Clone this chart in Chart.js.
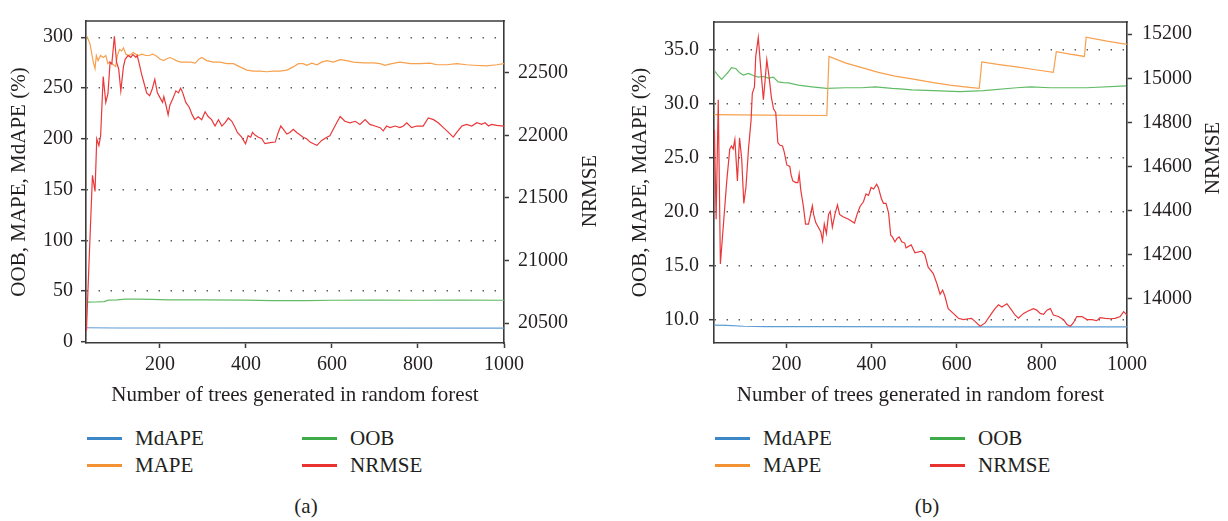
<!DOCTYPE html>
<html><head><meta charset="utf-8">
<script src="https://cdn.jsdelivr.net/npm/chart.js@4.4.1/dist/chart.umd.min.js"></script>
<style>
html,body{margin:0;padding:0;background:#fff;}
#wrap{position:relative;width:1228px;height:521px;overflow:hidden;font-family:"Liberation Serif","Times New Roman",serif;color:#231f20;}
.cv{position:absolute;top:0;}
.leg{position:absolute;font-size:21px;line-height:27px;}
.item{position:absolute;white-space:nowrap;height:27px;}
.sw{position:absolute;left:0;top:12px;width:35px;height:3px;}
.lab{position:absolute;left:48px;top:0;}
.cap{position:absolute;font-size:21px;transform:translate(-50%,-50%);}
</style></head>
<body><div id="wrap">
<canvas id="ca" class="cv" width="614" height="410" style="left:0"></canvas>
<canvas id="cb" class="cv" width="614" height="410" style="left:614px"></canvas>
<div id="legA" class="leg" style="left:87px;top:425px"></div>
<div id="legB" class="leg" style="left:715px;top:425px"></div>
<div class="cap" style="left:306px;top:506px">(a)</div>
<div class="cap" style="left:927px;top:506px">(b)</div>
</div>
<script>
// ---------- labels ----------
const seriesNames = ['MdAPE', 'MAPE', 'OOB', 'NRMSE'];
const seriesColors = ['#3b87c8', '#f39232', '#3dab48', '#e8322d'];   // legend keys
const lineColors   = ['#5d9ed6', '#f7a04e', '#62bb66', '#e9383a'];   // plotted lines
const xTitle = 'Number of trees generated in random forest';
const yLeftTitle = 'OOB, MAPE, MdAPE (%)';
const yRightTitle = 'NRMSE';
const xTicks = [200, 400, 600, 800, 1000];

// ---------- panel (a) ----------
const aLeftTicks = [0, 50, 100, 150, 200, 250, 300];
const aRightTicks = [20500, 21000, 21500, 22000, 22500];

const aMdapeX = [28, 100, 1000];
const aMdape  = [13.8, 13.6, 13.5];

const aMapeX = [30,37,45,49,52,56,62,68,74,79,83,89,97,101,106,111,115,121,127,133,138,144,150,158,167,175,183,190,200,208,215,223,231,238,248,260,271,282,291,297,309,324,340,355,371,386,402,417,433,448,464,479,495,510,522,533,541,553,565,576,588,603,619,634,650,673,696,712,723,739,758,782,805,828,844,867,890,913,929,960,983,1000];
const aMape  = [301,294,275.5,269,282,277,282,280,282,274,275.5,274,271,282,288,286.5,289.6,283.3,282,283.3,285,283.3,282,283.3,282,282,283.3,282,278.6,277,278.6,280,278.6,277,275.5,275.5,275.5,274.5,278.6,280,277,275.5,275.5,274,274,270.8,267.6,266.7,266.7,266,266.7,266.7,267.6,270.8,274,274,272.4,274.5,272.9,275.5,277,275.5,278,277,275.5,274.8,274.8,274,272.4,274,275.5,274,274,274.5,272.9,272.9,274,272.9,272.4,271.7,272.9,274];

const aOobX = [28,50,70,80,100,120,150,180,220,300,400,460,540,600,700,800,900,1000];
const aOob  = [39.0,39.2,39.6,41.0,41.3,42.0,42.1,41.8,41.2,41.3,41.0,40.5,40.6,40.9,41.0,40.9,41.0,40.9];

const aNrmseX = [29,33,43,49,53,58,62,68,74,79,84,88,94,99,104,109,115,119,126,132,137,144,147,152,157,163,169,176,182,188,194,200,206,209,214,219,223,230,237,243,248,253,260,268,275,281,289,297,305,312,320,328,336,344,351,359,367,375,380,390,399,405,411,415,421,429,437,444,456,468,475,481,487,495,502,510,518,526,533,541,549,557,565,576,588,595,603,611,619,630,642,654,665,677,688,700,712,719,727,735,747,758,766,774,785,797,812,824,836,847,859,871,882,890,902,913,925,937,948,956,964,971,983,1000];
const aNrmse  = [20440,20800,21681,21551,21972,21918,21995,22469,22263,22332,22584,22569,22791,22584,22531,22355,22546,22607,22638,22623,22645,22623,22638,22569,22492,22416,22339,22316,22370,22446,22339,22301,22263,22309,22240,22163,22240,22293,22355,22339,22377,22339,22263,22224,22163,22125,22148,22125,22188,22150,22125,22074,22125,22074,22100,22138,22112,22061,22023,21985,21933,21997,21985,22023,22002,21985,21972,21933,21941,21946,22023,22074,22048,22010,22023,22048,22023,22002,21985,21972,21946,21933,21920,21959,21985,21997,22048,22100,22150,22112,22100,22112,22087,22125,22087,22074,22061,22035,22074,22061,22074,22061,22074,22100,22061,22074,22074,22138,22125,22100,22061,22023,21985,22023,22074,22087,22074,22100,22087,22100,22074,22087,22079,22074];

// ---------- panel (b) ----------
const bLeftTicks = [10, 15, 20, 25, 30, 35];
const bRightTicks = [14000, 14200, 14400, 14600, 14800, 15000, 15200];

const bMdapeX = [30, 60, 100, 150, 300, 600, 1000];
const bMdape  = [9.47, 9.45, 9.36, 9.32, 9.32, 9.30, 9.30];

const bMapeX = [30,150,295,300,338,377,416,455,495,545,584,624,653,659,700,741,785,827,834,866,900,904,953,1000];
const bMape  = [28.97,28.92,28.88,34.35,33.76,33.32,32.87,32.52,32.28,31.92,31.69,31.51,31.39,33.85,33.60,33.38,33.12,32.87,34.80,34.56,34.35,36.13,35.77,35.47];

const bOobX = [31,40,48,56,64,71,81,91,99,111,122,134,146,158,169,181,193,205,228,260,295,338,377,409,448,467,495,545,608,663,741,773,820,906,998];
const bOob  = [33.02,32.58,32.23,32.58,32.93,33.32,33.23,32.81,32.63,32.78,32.58,32.43,32.49,32.34,32.43,31.99,31.92,31.90,31.69,31.54,31.39,31.45,31.45,31.54,31.39,31.34,31.25,31.19,31.10,31.19,31.45,31.54,31.45,31.45,31.63];

const bNrmseX = [31,35,40,45,60,67,71,75,79,85,90,95,100,105,111,117,120,125,128,134,140,146,150,154,159,165,170,175,180,185,191,195,201,208,211,215,222,227,230,234,240,245,252,256,261,264,269,275,281,285,289,294,299,303,308,314,320,325,333,346,360,366,373,381,387,393,399,405,412,416,423,428,434,440,445,449,455,460,465,471,478,481,487,493,502,518,525,533,545,553,561,567,572,580,592,604,616,627,635,643,655,667,674,682,690,698,706,718,729,737,745,757,768,780,788,796,804,812,820,827,839,851,859,867,874,882,894,906,918,929,937,949,961,972,984,992,1000];
const bNrmse  = [14766,14361,14903,14158,14535,14679,14693,14679,14722,14535,14730,14636,14433,14505,14679,14809,14932,14961,15098,15185,15040,14903,14990,15084,15012,14910,14860,14845,14708,14696,14693,14665,14607,14600,14563,14535,14527,14527,14566,14491,14419,14339,14339,14375,14422,14383,14346,14325,14303,14263,14339,14296,14383,14397,14325,14383,14426,14383,14372,14361,14344,14383,14419,14440,14476,14469,14505,14498,14520,14505,14455,14433,14433,14390,14289,14281,14259,14274,14281,14259,14253,14231,14238,14245,14209,14216,14202,14144,14115,14072,14021,14040,14014,13956,13934,13912,13906,13910,13912,13898,13876,13891,13912,13934,13956,13973,13963,13978,13949,13927,13912,13934,13945,13956,13949,13934,13930,13949,13956,13927,13920,13906,13884,13876,13891,13920,13920,13906,13906,13901,13915,13912,13910,13912,13920,13942,13927];

// ---------- drawing ----------
const FONT = '"Liberation Serif", "Times New Roman", serif';
const INK = '#231f20';
const AXIS = '#3a3a3a';
const DOT = '#555555';

const pts = (xs, ys) => xs.map((x, i) => ({ x: x, y: ys[i] }));
const setTicks = vals => scale => { scale.ticks = vals.map(v => ({ value: v })); };

const framePlugin = {
  id: 'frameTitle',
  afterDraw(chart, args, o) {
    const { ctx, chartArea: a } = chart;
    ctx.save();
    ctx.strokeStyle = AXIS;
    ctx.lineWidth = 1.6;
    ctx.beginPath();
    ctx.moveTo(a.left - 0.8, a.top);
    ctx.lineTo(a.right + 0.8, a.top);
    ctx.stroke();
    ctx.translate(o.x, o.y);
    ctx.rotate(-Math.PI / 2);
    ctx.font = '21px ' + FONT;
    ctx.fillStyle = INK;
    ctx.textAlign = 'center';
    ctx.textBaseline = 'middle';
    ctx.fillText(o.text, 0, 0);
    ctx.restore();
  }
};

function makeChart(id, p) {
  const series = [
    pts(p.mdX, p.md), pts(p.mpX, p.mp), pts(p.obX, p.ob), pts(p.nrX, p.nr)
  ];
  const datasets = series.map((d, i) => ({
    label: seriesNames[i],
    data: d,
    borderColor: lineColors[i],
    backgroundColor: seriesColors[i],
    borderWidth: 1.2,
    pointRadius: 0,
    tension: 0,
    fill: false,
    yAxisID: i === 3 ? 'y2' : 'y',
    order: i === 3 ? 0 : 1
  }));
  const tickFont = { family: FONT, size: 20 };
  return new Chart(document.getElementById(id), {
    type: 'line',
    data: { datasets: datasets },
    plugins: [framePlugin],
    options: {
      responsive: false,
      animation: false,
      devicePixelRatio: 1,
      layout: { padding: { top: 7, left: 0, right: 0, bottom: 0 } },
      plugins: {
        legend: { display: false },
        tooltip: { enabled: false },
        frameTitle: { text: yRightTitle, x: p.rtX, y: p.rtY }
      },
      scales: {
        x: {
          type: 'linear', position: 'bottom', min: p.xMin, max: 1000,
          afterBuildTicks: setTicks(xTicks),
          afterFit: s => { s.height = 67; },
          ticks: { font: tickFont, color: INK, padding: 5, maxRotation: 0, autoSkip: false,
                   callback: v => String(v) },
          grid: { drawOnChartArea: false, drawTicks: true, tickLength: 5, tickColor: AXIS, tickWidth: 1.5 },
          border: { color: AXIS, width: 1.6 },
          title: { display: true, text: xTitle, color: INK, font: { family: FONT, size: 21 },
                   padding: { top: 0, bottom: 2 } }
        },
        y: {
          type: 'linear', position: 'left', min: p.yMin, max: p.yMax,
          afterBuildTicks: setTicks(p.lTicks),
          afterFit: s => { s.width = p.lW; },
          ticks: { font: tickFont, color: INK, padding: p.lPad, autoSkip: false, callback: p.lFmt },
          grid: { drawOnChartArea: true, drawTicks: true, tickLength: 5,
                  color: c => (c.tick && c.tick.value === p.lTicks[0] && p.hideFirst) ? 'rgba(0,0,0,0)' : DOT,
                  lineWidth: 1.4, tickColor: AXIS, tickWidth: 1.5 },
          border: { color: AXIS, width: 1.6, dash: [1.4, 10.6], dashOffset: 0 },
          title: { display: true, text: yLeftTitle, color: INK, font: { family: FONT, size: 21 },
                   padding: { top: p.ltPad, bottom: 0 } }
        },
        y2: {
          type: 'linear', position: 'right', min: p.y2Min, max: p.y2Max,
          afterBuildTicks: setTicks(p.rTicks),
          afterFit: s => { s.width = p.rW; },
          ticks: { font: tickFont, color: INK, padding: p.rPad, autoSkip: false, callback: v => String(v) },
          grid: { drawOnChartArea: false, drawTicks: true, tickLength: 5, tickColor: AXIS, tickWidth: 1.5 },
          border: { color: AXIS, width: 1.6 },
          title: { display: false }
        }
      }
    }
  });
}

const chartA = makeChart('ca', {
  mdX: aMdapeX, md: aMdape, mpX: aMapeX, mp: aMape, obX: aOobX, ob: aOob, nrX: aNrmseX, nr: aNrmse,
  xMin: 28, yMin: -1.2, yMax: 316, y2Min: 20341, y2Max: 22913,
  lTicks: aLeftTicks, rTicks: aRightTicks, lFmt: v => String(v), hideFirst: true,
  lW: 86, rW: 110, lPad: 8, rPad: 9, ltPad: 7, rtX: 590, rtY: 191
});

const chartB = makeChart('cb', {
  mdX: bMdapeX, md: bMdape, mpX: bMapeX, mp: bMape, obX: bOobX, ob: bOob, nrX: bNrmseX, nr: bNrmse,
  xMin: 30, yMin: 7.81, yMax: 37.54, y2Min: 13800, y2Max: 15255,
  lTicks: bLeftTicks, rTicks: bRightTicks, lFmt: v => v.toFixed(1), hideFirst: false,
  lW: 100, rW: 101, lPad: 10, rPad: 10, ltPad: 14, rtX: 599, rtY: 158
});

function buildLegend(elId, chart) {
  const el = document.getElementById(elId);
  const order = [0, 2, 1, 3];
  order.forEach((di, k) => {
    const ds = chart.data.datasets[di];
    const item = document.createElement('div');
    item.className = 'item';
    item.style.left = ((k % 2) * 215) + 'px';
    item.style.top = (Math.floor(k / 2) * 27) + 'px';
    const sw = document.createElement('span');
    sw.className = 'sw';
    sw.style.background = ds.backgroundColor;
    const lab = document.createElement('span');
    lab.className = 'lab';
    lab.textContent = ds.label;
    item.appendChild(sw);
    item.appendChild(lab);
    el.appendChild(item);
  });
}
buildLegend('legA', chartA);
buildLegend('legB', chartB);
</script>
</body></html>
